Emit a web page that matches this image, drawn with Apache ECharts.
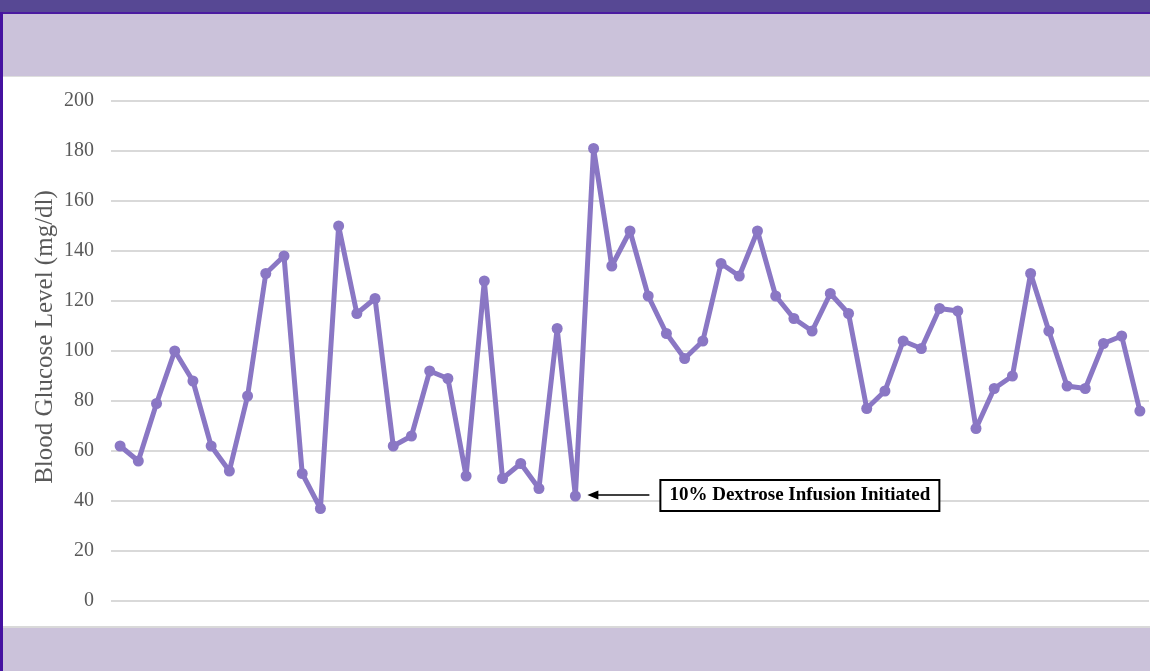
<!DOCTYPE html>
<html>
<head>
<meta charset="utf-8">
<script src="https://cdn.jsdelivr.net/npm/echarts@6/dist/echarts.min.js"></script>
<style>
html,body{margin:0;padding:0;background:#ffffff;}
#chart{width:1150px;height:671px;}
</style>
</head>
<body>
<div id="chart"></div>
<script>
// Reading index (1..57)
const categories = Array.from({length: 57}, (_, i) => String(i + 1));
// Blood glucose values (mg/dl)
const glucose = [62, 56, 79, 100, 88, 62, 52, 82, 131, 138,
                 51, 37, 150, 115, 121, 62, 66, 92, 89, 50,
                 128, 49, 55, 45, 109, 42, 181, 134, 148, 122,
                 107, 97, 104, 135, 130, 148, 122, 113, 108, 123,
                 115, 77, 84, 104, 101, 117, 116, 69, 85, 90,
                 131, 108, 86, 85, 103, 106, 76];
const yTicks = [0, 20, 40, 60, 80, 100, 120, 140, 160, 180, 200];
const yAxisTitle = 'Blood Glucose Level (mg/dl)';
const annotationText = '10% Dextrose Infusion Initiated';
const annotationIndex = 25; // the 42 mg/dl reading

const chart = echarts.init(document.getElementById('chart'), null, {renderer: 'canvas'});

const bgGraphics = [
  {type: 'rect', z: -10, silent: true, shape: {x: 0, y: 0, width: 1150, height: 12}, style: {fill: '#574894'}},
  {type: 'rect', z: -10, silent: true, shape: {x: 0, y: 12, width: 1150, height: 2}, style: {fill: '#4a1aa0'}},
  {type: 'rect', z: -10, silent: true, shape: {x: 0, y: 14, width: 1150, height: 62}, style: {fill: '#cbc2da'}},
  {type: 'rect', z: -10, silent: true, shape: {x: 0, y: 76, width: 1150, height: 1}, style: {fill: '#dedede'}},
  {type: 'rect', z: -10, silent: true, shape: {x: 0, y: 626, width: 1150, height: 2}, style: {fill: '#d9d9d9'}},
  {type: 'rect', z: -10, silent: true, shape: {x: 0, y: 628, width: 1150, height: 43}, style: {fill: '#cbc2da'}},
  {type: 'rect', z: -9, silent: true, shape: {x: 0, y: 12, width: 3, height: 659}, style: {fill: '#4512a0'}},
  {type: 'text', silent: true, rotation: Math.PI / 2, x: 45, y: 337,
   style: {text: yAxisTitle, fill: '#595959', font: '25px "Liberation Serif", "DejaVu Serif", serif',
           align: 'center', verticalAlign: 'middle'}}
];

const option = {
  animation: false,
  backgroundColor: '#ffffff',
  grid: {left: 111, right: 1, top: 101, bottom: 70, containLabel: false},
  xAxis: {
    type: 'category',
    data: categories,
    boundaryGap: true,
    axisLine: {show: false},
    axisTick: {show: false},
    axisLabel: {show: false},
    splitLine: {show: false}
  },
  yAxis: {
    type: 'value',
    min: yTicks[0],
    max: yTicks[yTicks.length - 1],
    interval: 20,
    axisLine: {show: false},
    axisTick: {show: false},
    axisLabel: {
      color: '#595959',
      fontFamily: '"Liberation Serif", "DejaVu Serif", serif',
      fontSize: 20,
      margin: 17
    },
    splitLine: {lineStyle: {color: '#d9d9d9', width: 2}}
  },
  series: [{
    type: 'line',
    data: glucose,
    symbol: 'circle',
    symbolSize: 11,
    showAllSymbol: true,
    lineStyle: {color: '#8a77c4', width: 5},
    itemStyle: {color: '#8a77c4'}
  }],
  graphic: bgGraphics
};

chart.setOption(option);

// Annotation anchored to the data point through the axes
const p = chart.convertToPixel({seriesIndex: 0}, [annotationIndex, glucose[annotationIndex]]);
const ax = p[0], ay = p[1] - 1;
const boxLeft = ax + 85, boxW = 279, boxH = 31;
chart.setOption({
  graphic: bgGraphics.concat([
    {type: 'line', z: 90, silent: true, shape: {x1: ax + 20, y1: ay, x2: boxLeft - 11, y2: ay},
     style: {stroke: '#000000', lineWidth: 1.5}},
    {type: 'polygon', z: 90, silent: true, shape: {points: [[ax + 12, ay], [ax + 23, ay - 4.5], [ax + 23, ay + 4.5]]},
     style: {fill: '#000000'}},
    {type: 'rect', z: 90, silent: true, shape: {x: boxLeft, y: ay - 15, width: boxW, height: boxH},
     style: {fill: '#ffffff', stroke: '#000000', lineWidth: 2}},
    {type: 'text', z: 100, silent: true, x: boxLeft + boxW / 2, y: ay,
     style: {text: annotationText, fill: '#000000',
             font: 'bold 19px "Liberation Serif", "DejaVu Serif", serif',
             align: 'center', verticalAlign: 'middle'}}
  ])
});
</script>
</body>
</html>
